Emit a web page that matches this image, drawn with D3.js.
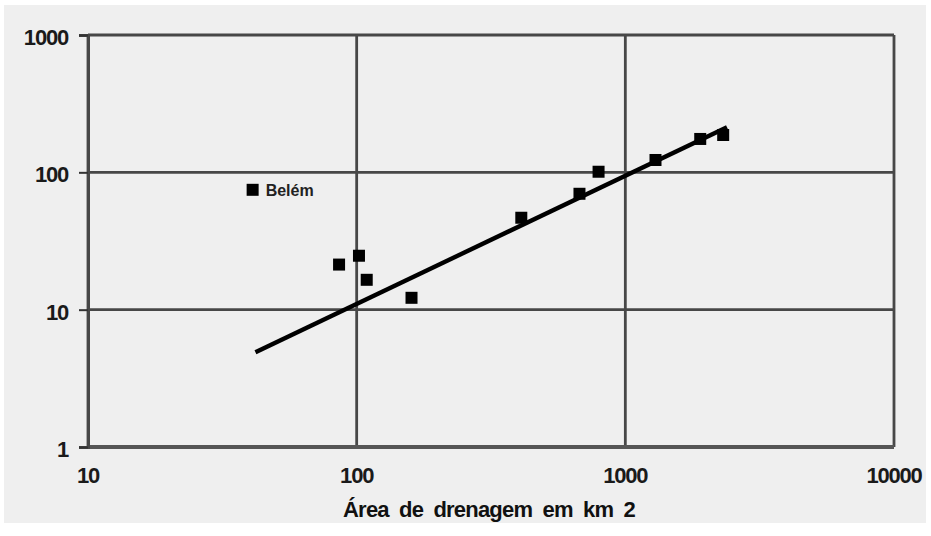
<!DOCTYPE html>
<html>
<head>
<meta charset="utf-8">
<script src="https://cdn.jsdelivr.net/npm/d3@7/dist/d3.min.js"></script>
<style>
  html, body { margin: 0; padding: 0; background: #ffffff; }
  svg { display: block; }
  text { font-family: "Liberation Sans", Arial, sans-serif; }
</style>
</head>
<body>
<svg id="chart" width="931" height="536"></svg>
<script>
// Drainage area (km²) and measured values per station
const stationNames = ["Belém", "", "", "", "", "", "", "", "", "", ""];
const areaKm2 = [41, 86, 102, 109, 160, 410, 675, 795, 1295, 1900, 2313];
const values = [74.6, 21.3, 24.7, 16.5, 12.2, 46.7, 69.8, 101, 123, 175, 187];

// Power-law fit line endpoints
const fitArea = [42, 2390];
const fitValue = [4.9, 213];

const xTicks = [10, 100, 1000, 10000];
const yTicks = [1, 10, 100, 1000];
const xTitle = "Área de drenagem em km 2";

const svg = d3.select("#chart");
const margin = { left: 88, right: 37, top: 35, bottom: 89 };
const W = 931, H = 536;

// Panel background
svg.append("rect")
  .attr("x", 4).attr("y", 5).attr("width", 922).attr("height", 518)
  .attr("fill", "#efefef");

const x = d3.scaleLog().domain([10, 10000]).range([margin.left, W - margin.right]);
const y = d3.scaleLog().domain([1, 1000]).range([H - margin.bottom, margin.top]);

const grid = svg.append("g");
// Vertical gridlines
grid.selectAll("line.v").data(xTicks).join("line")
  .attr("x1", d => x(d)).attr("x2", d => x(d))
  .attr("y1", y(1000)).attr("y2", y(1))
  .attr("stroke", "#474747").attr("stroke-width", 2.8);
// Horizontal gridlines
grid.selectAll("line.h").data(yTicks).join("line")
  .attr("x1", x(10)).attr("x2", x(10000))
  .attr("y1", d => y(d)).attr("y2", d => y(d))
  .attr("stroke", "#474747").attr("stroke-width", 2.8);
// Bottom axis line a bit heavier
svg.append("line")
  .attr("x1", x(10)).attr("x2", x(10000))
  .attr("y1", y(1)).attr("y2", y(1))
  .attr("stroke", "#555").attr("stroke-width", 4);

// Y axis
const yAxis = d3.axisLeft(y).tickValues(yTicks).tickFormat(d3.format("d")).tickSize(9).tickPadding(11);
const gy = svg.append("g").attr("transform", `translate(${x(10)},0)`).call(yAxis);
gy.select(".domain").attr("stroke", "#474747").attr("stroke-width", 3);
gy.selectAll(".tick line").attr("stroke", "#333").attr("stroke-width", 2);
gy.selectAll(".tick text").attr("font-size", 22).attr("font-weight", "bold")
  .attr("fill", "#1a1a1a").attr("letter-spacing", "-1.2px").attr("dy", "0.43em");

// X axis labels
const gx = svg.append("g");
gx.selectAll("text").data(xTicks).join("text")
  .attr("x", d => x(d)).attr("y", 483)
  .attr("text-anchor", "middle")
  .attr("font-size", 22).attr("font-weight", "bold").attr("fill", "#1a1a1a")
  .attr("letter-spacing", "-1.2px")
  .text(d => d3.format("d")(d));

// Axis title
svg.append("text")
  .attr("x", 489).attr("y", 517)
  .attr("text-anchor", "middle")
  .attr("font-size", 22).attr("font-weight", "bold").attr("fill", "#111")
  .attr("letter-spacing", "-0.8px").attr("word-spacing", "5px")
  .text(xTitle);

// Fit line
svg.append("line")
  .attr("x1", x(fitArea[0])).attr("y1", y(fitValue[0]))
  .attr("x2", x(fitArea[1])).attr("y2", y(fitValue[1]))
  .attr("stroke", "#000").attr("stroke-width", 4.4);

// Station markers
const pts = areaKm2.map((a, i) => ({ a, v: values[i], name: stationNames[i] }));
svg.selectAll("rect.pt").data(pts).join("rect")
  .attr("x", d => x(d.a) - 6).attr("y", d => y(d.v) - 6)
  .attr("width", 12).attr("height", 12)
  .attr("fill", "#000");

svg.selectAll("text.lbl").data(pts.filter(d => d.name)).join("text")
  .attr("x", d => x(d.a) + 13).attr("y", d => y(d.v) + 6)
  .attr("font-size", 16).attr("font-weight", "bold").attr("fill", "#222")
  .text(d => d.name);
</script>
</body>
</html>
